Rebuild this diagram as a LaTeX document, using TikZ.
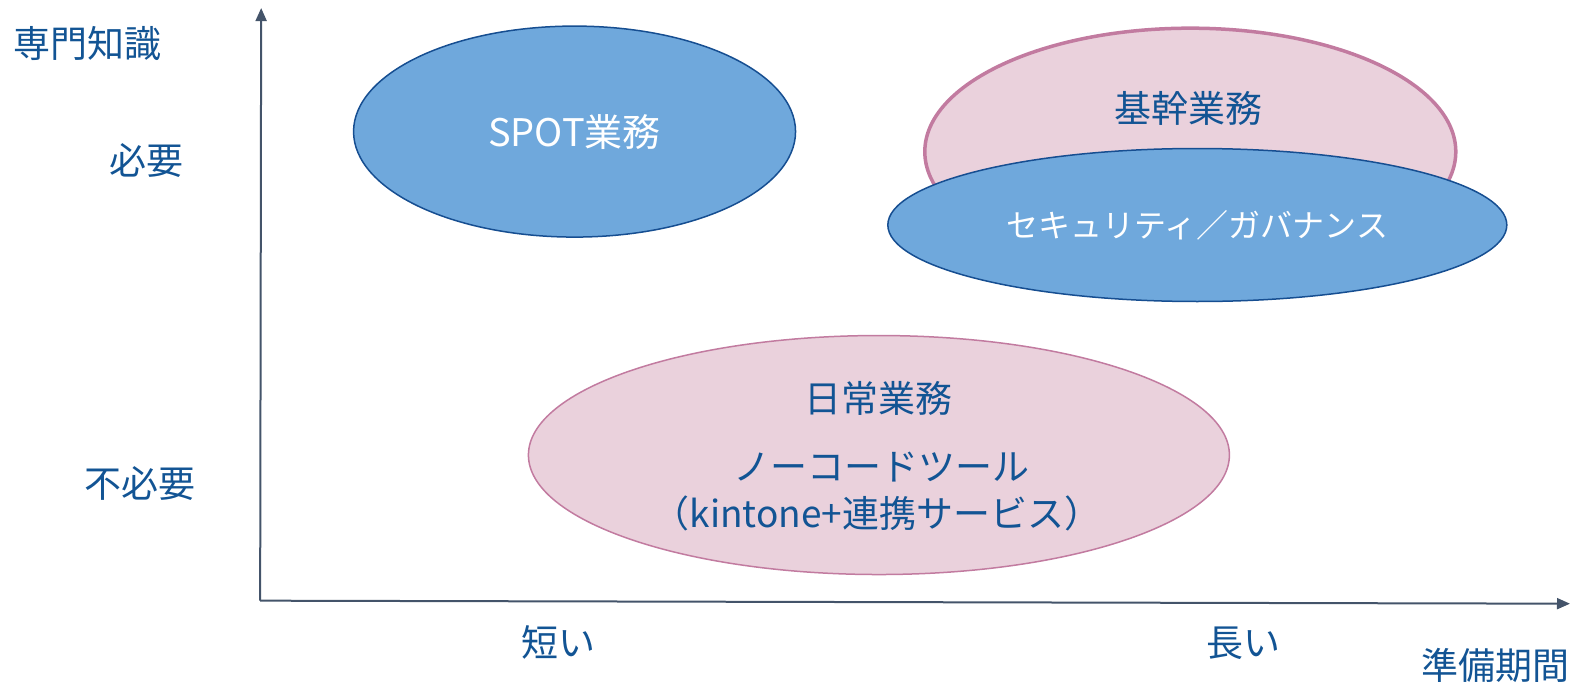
\documentclass[tikz,border=0pt]{standalone}
\usepackage{fontspec}
\setmainfont{Noto Sans CJK JP}
\usetikzlibrary{shapes.geometric,arrows.meta}
\definecolor{txtblue}{RGB}{18,84,148}
\definecolor{bluefill}{RGB}{111,168,220}
\definecolor{blueline}{RGB}{22,78,145}
\definecolor{pinkfill}{RGB}{234,209,220}
\definecolor{pinkline}{RGB}{194,123,160}
\definecolor{axiscol}{RGB}{68,84,106}
\tikzset{
  lbl/.style={text=txtblue, font=\fontsize{37}{42}\selectfont, inner sep=0pt},
  wlbl/.style={text=white, font=\fontsize{32}{38}\selectfont, inner sep=0pt},
  blueell/.style={ellipse, draw=blueline, fill=bluefill, line width=1.5pt, inner sep=0pt},
  pinkell/.style={ellipse, draw=pinkline, fill=pinkfill, inner sep=0pt},
  axisline/.style={draw=axiscol, line width=2pt, -{Triangle[width=11pt,length=13pt]}}
}
\begin{document}
\begin{tikzpicture}[x=1.0045pt,y=-1.0045pt]
\useasboundingbox (0,0) rectangle (1568,681);
% axes
\coordinate (origin) at (259,598);
\coordinate (ytip) at (260,8);
\coordinate (xtip) at (1563,601);
\draw[axisline] (origin) -- (ytip);
\draw[axisline] (origin) -- (xtip);
% ellipses
\node[blueell, minimum width=442pt, minimum height=211pt] (spot) at (572,131) {};
\node[wlbl, font=\fontsize{38}{44}\selectfont] (spott) at (572,131) {SPOT業務};
\node[pinkell, line width=3.5pt, minimum width=531pt, minimum height=247pt] (kikan) at (1185,151) {};
\node[blueell, minimum width=619pt, minimum height=153pt] (sec) at (1192,224) {};
\node[wlbl] (sect) at (1192,224) {セキュリティ／ガバナンス};
\node[lbl] (kikant) at (1183,108) {基幹業務};
\node[pinkell, line width=1.5pt, minimum width=701pt, minimum height=239pt] (nichijo) at (875,453) {};
\node[lbl] (nichijot) at (875,397) {日常業務};
\node[lbl] (nocode) at (878,465) {ノーコードツール};
\node[lbl] (kintone) at (873,511) {（kintone+連携サービス）};
% axis labels
\node[lbl] (senmon) at (87,43) {専門知識};
\node[lbl] (hitsuyo) at (146,160) {必要};
\node[lbl] (fuhitsuyo) at (139,481) {不必要};
\node[lbl] (mijikai) at (556,640) {短い};
\node[lbl] (nagai) at (1238,640) {長い};
\node[lbl] (junbi) at (1489,662) {準備期間};
\end{tikzpicture}
\end{document}
